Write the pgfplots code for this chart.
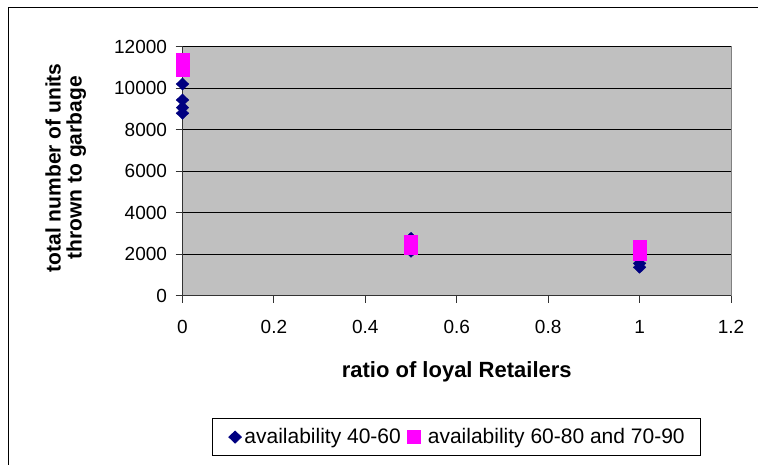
\documentclass[border=0pt]{standalone}
\usepackage{fontspec}
\setmainfont{Liberation Sans}
\usepackage{pgfplots}
\pgfplotsset{compat=1.18}
\definecolor{navyblue}{HTML}{000080}
\definecolor{pinkmag}{HTML}{FF00FF}
\definecolor{plotgray}{HTML}{C0C0C0}
\definecolor{framegray}{HTML}{808080}
% legend swatch for the square marks, with a little extra room before the text
\pgfplotsset{squarelegend/.style={legend image code/.code={%
    \draw[mark repeat=2,mark phase=2,##1]
      plot coordinates {(0pt,0pt)(6.5pt,0pt)(13pt,0pt)};
    \path[draw=none] (0pt,0pt) (17pt,0pt);}}}

\begin{document}
\begin{tikzpicture}[x=1pt,y=1pt]
\useasboundingbox (0pt,0pt) rectangle (758pt,464pt);
% chart frame
\draw[black, line width=1pt] (8.5pt,-20pt) rectangle (800pt,456.5pt);
\begin{axis}[
  at={(182.5pt,168.5pt)}, anchor=south west,
  scale only axis, width=548.5pt, height=248.8pt,
  xmin=0, xmax=1.2, ymin=0, ymax=12000,
  xtick={0,0.2,0.4,0.6,0.8,1,1.2},
  ytick={0,2000,4000,6000,8000,10000,12000},
  axis x line*=bottom, axis y line*=left,
  axis line style={-, line width=1.2pt, black!80},
  axis background/.style={fill=plotgray, draw=framegray, line width=1pt},
  ymajorgrids, major grid style={black, line width=0.9pt},
  tick align=outside, major tick length=7pt,
  tick style={black!80, line width=0.9pt},
  ticklabel style={font=\fontsize{19}{22}\selectfont},
  xticklabel style={yshift=-14pt},
  yticklabel style={xshift=-5pt},
  /pgf/number format/assume math mode=true,
  /pgf/number format/1000 sep={},
  scaled y ticks=false,
  clip=false,
  xlabel={ratio of loyal Retailers},
  xlabel style={font=\bfseries\fontsize{22}{26}\selectfont,
    at={(axis description cs:0.5,-0.306)}, anchor=center},
  ylabel={total number of units\\thrown to garbage},
  ylabel style={font=\bfseries\fontsize{21}{21}\selectfont, align=center,
    at={(axis description cs:-0.213,0.513)}, anchor=center},
  legend columns=2,
  legend style={at={(0.5,-0.569)}, anchor=center, draw=black,
    line width=0.8pt, fill=white,
    font=\fontsize{21}{24}\selectfont,
    nodes={inner sep=0pt},
    inner xsep=16pt, inner ysep=10pt,
    /tikz/every odd column/.append style={column sep=3pt},
    /tikz/every even column/.append style={column sep=7pt}},
  legend image code/.code={%
    \draw[mark repeat=2,mark phase=2,#1]
      plot coordinates {(0pt,0pt)(6.5pt,0pt)(13pt,0pt)};},
]
% availability 40-60
\addplot[only marks, mark=diamond*, mark size=6pt,
  mark options={xscale=1.4, fill=navyblue, draw=navyblue}]
  coordinates {
    (0,10200) (0,9430) (0,9060) (0,8790)
    (0.5,2760) (0.5,2450) (0.5,2130)
    (1,1550) (1,1360)
  };
\addlegendentry{availability 40-60}
% availability 60-80 and 70-90
\addplot[only marks, mark=square*, mark size=6.5pt,
  mark options={fill=pinkmag, draw=pinkmag, line width=0pt},
  squarelegend]
  coordinates {
    (0,11340) (0,11100) (0,10860)
    (0.5,2590) (0.5,2275)
    (1,2320) (1,1985)
  };
\addlegendentry{availability 60-80 and 70-90}
\end{axis}
\end{tikzpicture}
\end{document}
